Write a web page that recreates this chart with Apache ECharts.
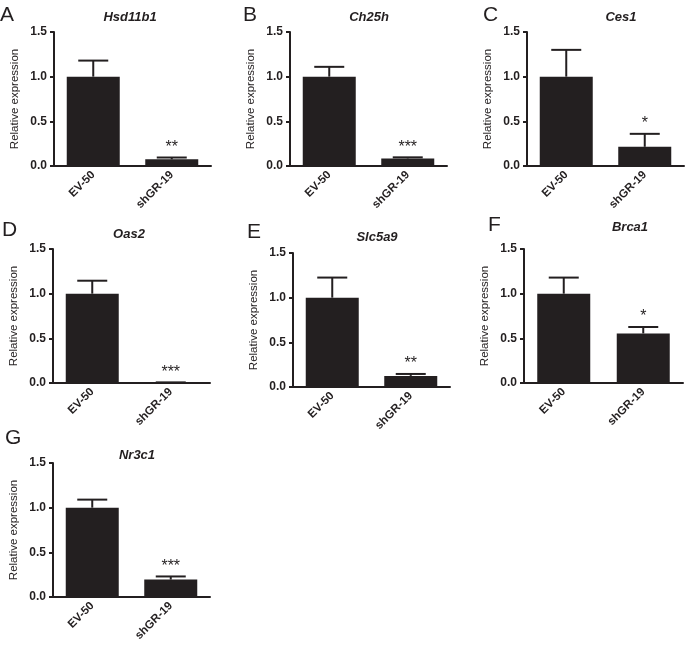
<!DOCTYPE html>
<html>
<head>
<meta charset="utf-8">
<script src="https://cdn.jsdelivr.net/npm/echarts@6/dist/echarts.min.js"></script>
<style>
html,body{margin:0;padding:0;background:#fff;}
#chart{width:685px;height:645px;}
</style>
</head>
<body>
<div id="chart"></div>
<script>
// ---- data ----
const categories = ['EV-50', 'shGR-19'];
const genes = ['Hsd11b1', 'Ch25h', 'Ces1', 'Oas2', 'Slc5a9', 'Brca1', 'Nr3c1'];
const panelLetters = ['A', 'B', 'C', 'D', 'E', 'F', 'G'];
const meanHsd11b1 = [1.0, 0.075];
const meanCh25h   = [1.0, 0.085];
const meanCes1    = [1.0, 0.215];
const meanOas2    = [1.0, 0.005];
const meanSlc5a9  = [1.0, 0.124];
const meanBrca1   = [1.0, 0.555];
const meanNr3c1   = [1.0, 0.195];
const errHsd11b1 = [0.18, 0.02];
const errCh25h   = [0.11, 0.012];
const errCes1    = [0.30, 0.145];
const errOas2    = [0.145, 0.002];
const errSlc5a9  = [0.225, 0.022];
const errBrca1   = [0.18, 0.072];
const errNr3c1   = [0.09, 0.035];
const stars = ['**', '***', '*', '***', '**', '*', '***'];
const yTicks = [0, 0.5, 1.0, 1.5];

const means = [meanHsd11b1, meanCh25h, meanCes1, meanOas2, meanSlc5a9, meanBrca1, meanNr3c1];
const errs = [errHsd11b1, errCh25h, errCes1, errOas2, errSlc5a9, errBrca1, errNr3c1];

// ---- layout ----
const gridBoxes = [
  {left: 54,  top: 32,  width: 157, height: 134},
  {left: 290, top: 32,  width: 157, height: 134},
  {left: 527, top: 32,  width: 157, height: 134},
  {left: 53,  top: 249, width: 157, height: 134},
  {left: 293, top: 253, width: 157, height: 134},
  {left: 524, top: 249, width: 159, height: 134},
  {left: 53,  top: 463, width: 157, height: 134}
];
const titlePos = [[130, 17], [369, 17], [621, 17], [129, 234], [377, 237], [630, 227], [137, 455]];
const letterPos = [[0, 15], [243, 15], [483, 15], [2, 230], [247, 232], [488, 225], [5, 438]];

const INK = '#231f20';
const FONT = '"Liberation Sans", Arial, Helvetica, sans-serif';

function makeErrRenderer(starText) {
  return function (params, api) {
    const x = api.value(0), m = api.value(1), e = api.value(2);
    const base = api.coord([x, m]);
    const top = api.coord([x, m + e]);
    const half = 15;
    const children = [
      {type: 'line', shape: {x1: base[0], y1: base[1], x2: top[0], y2: top[1]},
       style: {stroke: INK, lineWidth: 2}},
      {type: 'line', shape: {x1: top[0] - half, y1: top[1], x2: top[0] + half, y2: top[1]},
       style: {stroke: INK, lineWidth: 2}}
    ];
    if (x === 1) {
      children.push({type: 'text', x: top[0], y: top[1] - 2,
        style: {text: starText, textAlign: 'center', textVerticalAlign: 'bottom',
                align: 'center', verticalAlign: 'bottom',
                fontSize: 16, fontFamily: FONT, fill: INK}});
    }
    return {type: 'group', children: children};
  };
}

const grid = [], xAxis = [], yAxis = [], series = [], graphic = [];
genes.forEach(function (g, i) {
  grid.push(Object.assign({containLabel: false, outerBoundsMode: 'none'}, gridBoxes[i]));
  xAxis.push({
    type: 'category', gridIndex: i, data: categories,
    axisLine: {lineStyle: {color: INK, width: 2}},
    axisTick: {alignWithLabel: true, length: 4, lineStyle: {color: INK, width: 2}},
    axisLabel: {rotate: 45, margin: 7, color: INK, fontWeight: 'bold', fontSize: 11.5, fontFamily: FONT}
  });
  yAxis.push({
    type: 'value', gridIndex: i, min: yTicks[0], max: yTicks[yTicks.length - 1], interval: 0.5,
    name: 'Relative expression', nameLocation: 'middle', nameGap: 33,
    nameTextStyle: {color: INK, fontSize: 11.5, fontFamily: FONT},
    axisLine: {show: true, lineStyle: {color: INK, width: 2}},
    axisTick: {show: true, length: 4, lineStyle: {color: INK, width: 2}},
    splitLine: {show: false},
    axisLabel: {margin: 7, color: INK, fontWeight: 'bold', fontSize: 12, fontFamily: FONT,
      formatter: function (v) { return v.toFixed(1); }}
  });
  series.push({
    type: 'bar', xAxisIndex: i, yAxisIndex: i, data: means[i], barWidth: 53,
    itemStyle: {color: INK}, silent: true, animation: false
  });
  series.push({
    type: 'custom', xAxisIndex: i, yAxisIndex: i,
    data: categories.map(function (c, k) { return [k, means[i][k], errs[i][k]]; }),
    renderItem: makeErrRenderer(stars[i]), silent: true, animation: false, z: 3
  });
  graphic.push({type: 'text', x: titlePos[i][0], y: titlePos[i][1],
    style: {text: g, align: 'center', verticalAlign: 'middle', fill: INK,
            font: 'italic bold 13px ' + FONT}});
  graphic.push({type: 'text', x: letterPos[i][0], y: letterPos[i][1],
    style: {text: panelLetters[i], align: 'left', verticalAlign: 'middle', fill: INK,
            font: 'normal 21px ' + FONT}});
});

const chart = echarts.init(document.getElementById('chart'), null, {renderer: 'canvas'});
chart.setOption({
  backgroundColor: '#fff',
  animation: false,
  grid: grid, xAxis: xAxis, yAxis: yAxis, series: series, graphic: graphic
});
</script>
</body>
</html>
